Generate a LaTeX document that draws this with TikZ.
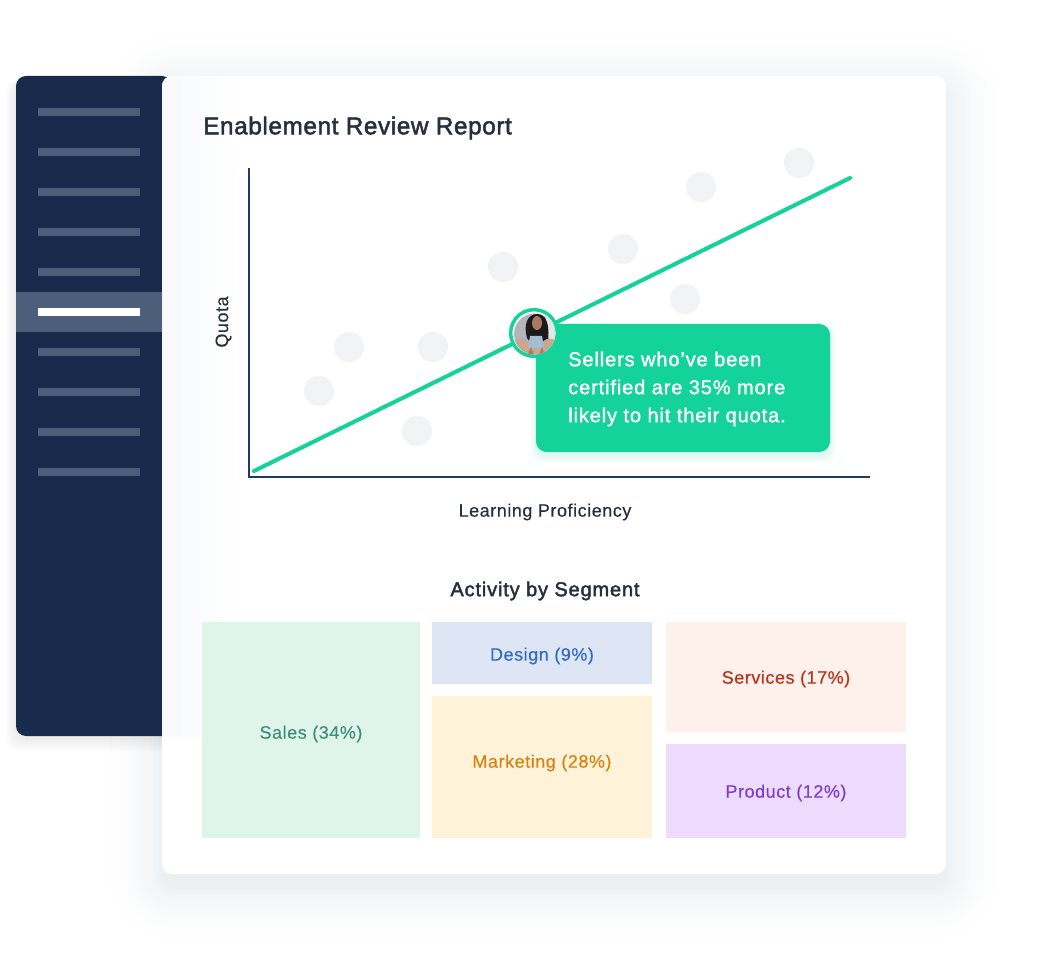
\documentclass[tikz,border=0pt]{standalone}
\usepackage{fontspec}
\setmainfont{Liberation Sans}
\newfontface\medfont{Liberation Sans}[FakeBold=2,LetterSpace=2.6]
\newfontface\calfont{Liberation Sans}[FakeBold=1.4,LetterSpace=4.4]
\newfontface\headfont{Liberation Sans}[FakeBold=2,LetterSpace=4.2]
\newfontface\regfont{Liberation Sans}[FakeBold=0.3,LetterSpace=3]
\definecolor{navy}{HTML}{182B4D}
\definecolor{barc}{HTML}{4D5E7A}
\definecolor{axisc}{HTML}{1F3A68}
\definecolor{ink}{HTML}{262F3D}
\definecolor{teal}{HTML}{14D39A}
\definecolor{dotc}{HTML}{F2F3F5}
\definecolor{salesbg}{HTML}{DFF5E9}
\definecolor{designbg}{HTML}{DEE6F6}
\definecolor{mktbg}{HTML}{FEF2D9}
\definecolor{servbg}{HTML}{FEF0EB}
\definecolor{prodbg}{HTML}{EDDBFD}
\definecolor{salest}{HTML}{3F8C80}
\definecolor{designt}{HTML}{2F6BC4}
\definecolor{mktt}{HTML}{D9820F}
\definecolor{servt}{HTML}{B8321C}
\definecolor{prodt}{HTML}{7E3BCF}
\definecolor{shadowtint}{HTML}{EDF0F3}
\definecolor{cardtint}{HTML}{F8F9FC}
\definecolor{photobg}{HTML}{B4B4BE}
\definecolor{photolt}{HTML}{E6E6EA}
\definecolor{skin}{HTML}{A97A60}
\definecolor{knee}{HTML}{C9A68E}
\definecolor{hair}{HTML}{1E1A1C}
\definecolor{shirt}{HTML}{A5BCD2}
\tikzset{
  x=0.75pt,y=-0.75pt,
  menubar/.style={fill=barc,draw=none},
  dotm/.style={circle,fill=dotc,draw=none,minimum size=22.5pt,inner sep=0pt},
  segfill/.style={draw=none},
  seglab/.style={inner sep=0pt,font=\regfont\fontsize{13.5pt}{16pt}\selectfont},
  lab/.style={inner sep=0pt,text=ink,font=\regfont\fontsize{13.5pt}{16pt}\selectfont},
}
\newcommand{\menuitem}[1]{\fill[menubar] (38,#1-4) rectangle (140,#1+4);}
\newcommand{\segbox}[9]{% name x1 y1 x2 y2 bg fg text labely
  \fill[#6,segfill] (#2,#3) rectangle (#4,#5);
  \node[seglab,text=#7] (#1) at ({(#2+#4)/2},#9) {#8};
}
\begin{document}
\begin{tikzpicture}
\useasboundingbox (0,0) rectangle (1050,966);
\fill[white] (0,0) rectangle (1050,966);
% card shadow (opaque rings, outer to inner)
\foreach \k in {0,...,24}{
  \pgfmathsetmacro{\d}{62*(1-\k/24)}
  \pgfmathsetmacro{\t}{100*(\k/24)*(\k/24)}
  \pgfmathsetmacro{\r}{7.5+0.75*\d}
  \fill[shadowtint!\t!white,rounded corners=\r pt] (162-\d,76-\d+12) rectangle (946+\d,874+\d+12);
}
% sidebar shadow
\foreach \k in {1,...,6}{
  \fill[black,opacity=0.012,rounded corners=9pt] (16-\k*1.6,76+4) rectangle (172,736+\k*2.2+2);
}
% sidebar
\fill[navy,rounded corners=7.5pt] (16,76) -- (172,76) -- (172,736) -- (16,736) -- cycle;
\fill[barc] (16,292) rectangle (170,332);
\foreach \y in {112,152,192,232,272,352,392,432,472}{\menuitem{\y}}
\fill[white] (38,308) rectangle (140,316);
% card
\fill[white,rounded corners=7.5pt] (162,76) rectangle (946,874);
\begin{scope}
\clip[rounded corners=7.5pt] (162,76) rectangle (946,874);
\shade[left color=cardtint,right color=white] (162,76) rectangle (240,736);
\end{scope}
% title
\node[anchor=west,inner sep=0pt,text=ink,font=\medfont\fontsize{18.2pt}{22pt}\selectfont] (title) at (203,128) {Enablement Review Report};
% dots
\foreach \n/\x/\y in {a/319/391,b/349/347,c/417/431,d/433/347,e/503/267,f/623/249,g/685/299,h/701/187,i/799/163}{
  \node[dotm] (dot\n) at (\x,\y) {};
}
% axes
\coordinate (top) at (249,168);
\coordinate (origin) at (249,477);
\coordinate (right) at (870,477);
\draw[axisc,line width=1.5pt] (top) -- (origin) -- (right);
\node[lab,rotate=90] (quota) at (223.5,322) {Quota};
\node[lab] (xlabel) at (545,512) {Learning Proficiency};
% trend
\coordinate (t0) at (254,471);
\coordinate (t1) at (850,178);
\draw[teal,line width=3pt,line cap=round] (t0) -- (t1);
% callout
\foreach \k in {1,...,6}{\fill[teal,opacity=0.02,rounded corners=8pt] (536-\k,324-\k+4) rectangle (830+\k,452+\k+4);}
\node[fill=teal,draw=none,rounded corners=8pt,minimum width=220.5pt,minimum height=96pt,inner sep=0pt] (callout) at (683,388) {};
\node[anchor=west,inner sep=0pt,text=white,align=left,font=\calfont\fontsize{15pt}{21pt}\selectfont] (ctext) at (568,389) {Sellers who’ve been\\certified are 35\% more\\likely to hit their quota.};
% avatar
\node[circle,fill=white,draw=teal,line width=2.6pt,minimum size=35pt,inner sep=0pt] (avatar) at (534,333) {};
\begin{scope}
\clip (534.5,334) circle (20.5);
\fill[photobg] (510,310) rectangle (558,358);
\fill[photolt] (546,310) rectangle (558,358);
\fill[hair] (527,338) .. controls (523,324) and (528,314) .. (537,314) .. controls (546,314) and (550,324) .. (548,342) -- (544,342) -- (530,342) -- cycle;
\fill[skin] (537,323) ellipse (5 and 7);
\fill[knee] (512,358) -- (513,342) .. controls (518,336) and (525,338) .. (530,345) -- (540,345) .. controls (545,338) and (552,336) .. (556,342) -- (556,358) -- cycle;
\fill[shirt] (530,336) -- (542,336) -- (544,348) -- (528,348) -- cycle;
\fill[skin] (526,358) -- (531,347) -- (535,358) -- cycle;
\fill[skin] (538,358) -- (542,347) -- (546,358) -- cycle;
\end{scope}
% segments
\node[anchor=center,inner sep=0pt,text=ink,font=\headfont\fontsize{15pt}{17pt}\selectfont] (segtitle) at (545,591) {Activity by Segment};
\segbox{sales}{202}{622}{420}{838}{salesbg}{salest}{Sales (34\%)}{734}
\segbox{design}{432}{622}{652}{684}{designbg}{designt}{Design (9\%)}{656}
\segbox{mkt}{432}{696}{652}{838}{mktbg}{mktt}{Marketing (28\%)}{763}
\segbox{serv}{666}{622}{906}{732}{servbg}{servt}{Services (17\%)}{679}
\segbox{prod}{666}{744}{906}{838}{prodbg}{prodt}{Product (12\%)}{793}
\end{tikzpicture}
\end{document}
